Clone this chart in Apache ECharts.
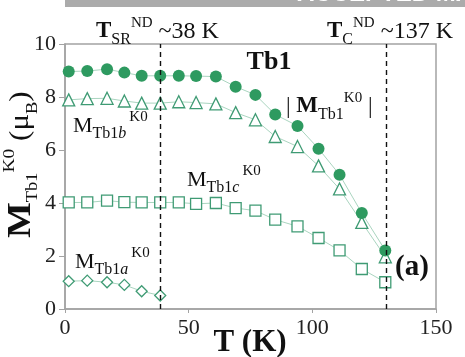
<!DOCTYPE html>
<html><head><meta charset="utf-8">
<script src="https://cdn.jsdelivr.net/npm/echarts@6/dist/echarts.min.js"></script>
<style>html,body{margin:0;padding:0;background:#fff}#c{width:465px;height:357px}</style>
</head><body><div id="c"></div>
<script>
const temps = [1.5, 9, 17, 24, 31, 38.5, 46, 53, 61, 69, 77, 85, 94, 102.5, 111, 120, 129.5];
const mTotal = [8.96, 8.98, 9.05, 8.92, 8.8, 8.8, 8.8, 8.79, 8.77, 8.39, 8.08, 7.34, 6.91, 6.05, 5.07, 3.62, 2.21];
const mB = [7.89, 7.94, 7.95, 7.85, 7.77, 7.77, 7.82, 7.79, 7.74, 7.41, 7.14, 6.51, 6.13, 5.4, 4.53, 3.27, 1.97];
const mC = [4.02, 4.02, 4.09, 4.03, 4.02, 4.02, 4.02, 3.97, 4.0, 3.81, 3.71, 3.37, 3.12, 2.68, 2.21, 1.51, 1.01];
const tempsA = [1.5, 9, 17, 24, 31, 38.5];
const mA = [1.05, 1.07, 1.01, 0.91, 0.67, 0.51];
const xTicks = [0, 50, 100, 150];
const yTicks = [0, 2, 4, 6, 8, 10];
const tSR = 38.5, tC = 130;

const SERIF = '"Liberation Serif","Times New Roman",serif';
const GREEN = '#2e9a60';
const OPEN = '#3f9b74';
const LINEC = '#aad5c0';
const pairs = (xs, ys) => xs.map((x, i) => [x, ys[i]]);

function ser(name, data, symbol, size, filled) {
  return {
    name, type: 'line', data, symbol, symbolSize: size, z: filled ? 4 : 3,
    lineStyle: { color: LINEC, width: 1 },
    itemStyle: filled ? { color: GREEN, borderColor: GREEN, borderWidth: 0 }
                      : { color: '#fff', borderColor: OPEN, borderWidth: 1.3 },
    emphasis: { disabled: true }, animation: false
  };
}

const series = [
  ser('c', pairs(temps, mC), 'rect', 11, false),
  ser('a', pairs(tempsA, mA), 'diamond', 11, false),
  ser('b', pairs(temps, mB), 'triangle', 12, false),
  ser('t', pairs(temps, mTotal), 'circle', 12, true)
];
series[0].markLine = {
  symbol: 'none', silent: true, animation: false, label: { show: false },
  lineStyle: { color: '#111', type: [5, 4], width: 1.4 },
  data: [{ xAxis: tSR }, { xAxis: tC }]
};

function rt(x, y, text, rich, extra) {
  return Object.assign({ type: 'text', x, y, z: 10,
    style: { text, rich, fill: '#111', fontFamily: SERIF, textVerticalAlign: 'middle' } }, extra || {});
}
const richM = (mSize, bold, nSize, supPad) => ({
  m: { fontSize: mSize, fontFamily: SERIF, fontWeight: bold ? 'bold' : 'normal', color: '#111', lineHeight: 32, verticalAlign: 'middle' },
  s: { fontSize: 16, fontFamily: SERIF, color: '#111', lineHeight: 16, verticalAlign: 'bottom' },
  si: { fontSize: 16, fontFamily: SERIF, fontStyle: 'italic', color: '#111', lineHeight: 16, verticalAlign: 'bottom' },
  p: { fontSize: 15, fontFamily: SERIF, color: '#111', lineHeight: 15, verticalAlign: 'top', padding: [0, 0, 0, supPad || 0] },
  n: { fontSize: nSize || mSize, fontFamily: SERIF, color: '#111', lineHeight: 32, verticalAlign: 'middle' }
});

const graphic = [
  { type: 'rect', shape: { x: 65, y: 0, width: 400, height: 7 }, style: { fill: '#ababab' }, z: 1 },
  { type: 'text', x: 297, y: 6, z: 2, style: { text: 'ACCEPTED MANUSCRIPT', fill: '#fff', fontSize: 24, fontWeight: 'bold', fontFamily: '"Liberation Sans",Arial,sans-serif', textVerticalAlign: 'bottom' } },
  rt(96, 31.5, '{m|T}{s|SR}{p|ND}{n| ~38 K}', richM(23, true, 24)),
  rt(327, 31.5, '{m|T}{s|C}{p|ND}{n| ~137 K}', richM(23, true, 24)),
  { type: 'text', x: 269, y: 62, z: 10, style: { text: 'Tb1', fill: '#111', fontSize: 26, fontWeight: 'bold', fontFamily: SERIF, textAlign: 'center', textVerticalAlign: 'middle' } },
  rt(286, 106.5, '{n||}{m| M}{s|Tb1}{p|K0}{n| |}', richM(23, true, 23)),
  rt(73, 126, '{m|M}{s|Tb1}{si|b}{p|K0}', richM(22, false, 22, 3)),
  rt(187, 180, '{m|M}{s|Tb1}{si|c}{p|K0}', richM(22, false, 22, 3)),
  rt(75, 262, '{m|M}{s|Tb1}{si|a}{p|K0}', richM(22, false, 22, 3)),
  { type: 'text', x: 395, y: 268, z: 10, style: { text: '(a)', fill: '#111', fontSize: 29, fontWeight: 'bold', fontFamily: SERIF, textVerticalAlign: 'middle' } },
  { type: 'text', x: 250, y: 343, z: 10, style: { text: 'T (K)', fill: '#111', fontSize: 31, fontWeight: 'bold', fontFamily: SERIF, textAlign: 'center', textVerticalAlign: 'middle' } },
  { type: 'text', x: 21, y: 238, rotation: Math.PI / 2, scaleX: 1.15, z: 10,
    style: { text: '{m|M}{s|Tb1}{p|K0}{n| (μ}{s|B}{n|)}', textAlign: 'left', textVerticalAlign: 'middle', fill: '#111', fontFamily: SERIF,
      rich: {
        m: { fontSize: 33, fontWeight: 'bold', fontFamily: SERIF, color: '#111', lineHeight: 40, verticalAlign: 'middle' },
        s: { fontSize: 16, fontFamily: SERIF, color: '#111', lineHeight: 16, verticalAlign: 'bottom' },
        p: { fontSize: 17, fontFamily: SERIF, color: '#111', lineHeight: 17, verticalAlign: 'top' },
        n: { fontSize: 27, fontFamily: SERIF, color: '#111', lineHeight: 40, verticalAlign: 'middle' }
      } } }
];

const chart = echarts.init(document.getElementById('c'), null, { renderer: 'canvas' });
chart.setOption({
  animation: false,
  backgroundColor: '#fff',
  grid: { left: 65, right: 29, top: 44, bottom: 48, show: true, borderColor: '#a3a3a3', borderWidth: 1.5, backgroundColor: 'transparent' },
  xAxis: {
    type: 'value', min: 0, max: 150, interval: 50,
    axisLine: { show: true, lineStyle: { color: '#a3a3a3', width: 1.5 } },
    axisTick: { show: true, inside: false, length: 4, lineStyle: { color: '#a3a3a3' } },
    splitLine: { show: false },
    axisLabel: { margin: 8, fontSize: 22, fontFamily: SERIF, color: '#222',
      formatter: v => xTicks.includes(v) ? String(v) : '' }
  },
  yAxis: {
    type: 'value', min: 0, max: 10, interval: 2,
    axisLine: { show: true, lineStyle: { color: '#a3a3a3', width: 1.5 } },
    axisTick: { show: true, inside: false, length: 6, lineStyle: { color: '#a3a3a3' } },
    splitLine: { show: false },
    axisLabel: { margin: 9, fontSize: 22, fontFamily: SERIF, color: '#222',
      formatter: v => yTicks.includes(v) ? String(v) : '' }
  },
  series,
  graphic
});
</script>
</body></html>
